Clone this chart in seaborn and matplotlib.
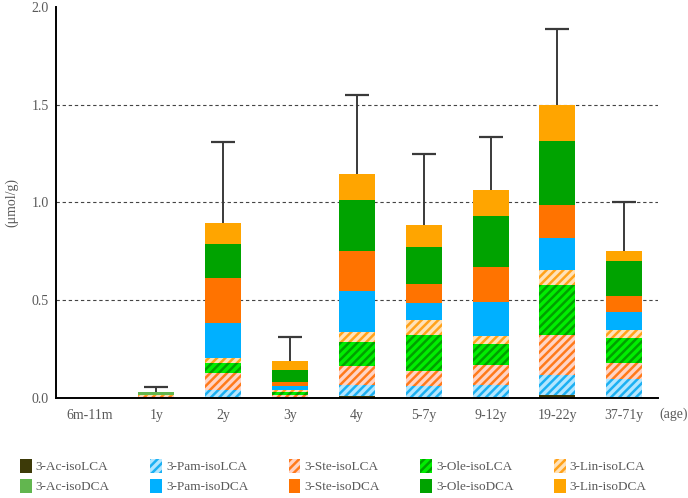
import numpy as np
import pandas as pd
import matplotlib
matplotlib.use('Agg')
import matplotlib.pyplot as plt
from matplotlib.patches import Patch
import seaborn as sns

# Age groups (x axis)
ages = ['6m-11m', '1y', '2y', '3y', '4y', '5-7y', '9-12y', '19-22y', '37-71y']

# Mean concentrations (umol/g), stacked bottom -> top
ac_lca = [0, 0.002, 0, 0, 0.009, 0, 0, 0.015, 0]
pam_lca = [0, 0, 0.039, 0.004, 0.056, 0.058, 0.062, 0.101, 0.094]
ste_lca = [0, 0.006, 0.089, 0.009, 0.097, 0.078, 0.106, 0.203, 0.085]
ole_lca = [0, 0, 0.051, 0.017, 0.123, 0.185, 0.108, 0.255, 0.128]
lin_lca = [0, 0.006, 0.024, 0.007, 0.053, 0.078, 0.041, 0.078, 0.038]
ac_dca = [0, 0.012, 0, 0, 0, 0, 0, 0, 0]
pam_dca = [0, 0, 0.179, 0.022, 0.207, 0.087, 0.174, 0.166, 0.092]
ste_dca = [0, 0, 0.230, 0.022, 0.205, 0.096, 0.179, 0.166, 0.085]
ole_dca = [0, 0, 0.174, 0.062, 0.260, 0.191, 0.258, 0.332, 0.178]
lin_dca = [0, 0, 0.107, 0.044, 0.135, 0.111, 0.137, 0.181, 0.050]

# SD of the total (upper error bar only)
total_sd = [np.nan, 0.029, 0.417, 0.123, 0.405, 0.365, 0.270, 0.388, 0.253]

# name, values, face colour, stripe colour (None = solid)
layers = [
    ('3-Ac-isoLCA', ac_lca, '#3d3a08', None),
    ('3-Pam-isoLCA', pam_lca, '#b3e6ff', '#1cb0f2'),
    ('3-Ste-isoLCA', ste_lca, '#ffd4c6', '#ff7a1c'),
    ('3-Ole-isoLCA', ole_lca, '#00ee00', '#00a000'),
    ('3-Lin-isoLCA', lin_lca, '#ffe2b8', '#ffa21a'),
    ('3-Ac-isoDCA', ac_dca, '#62b64f', None),
    ('3-Pam-isoDCA', pam_dca, '#00b0ff', None),
    ('3-Ste-isoDCA', ste_dca, '#ff7300', None),
    ('3-Ole-isoDCA', ole_dca, '#00a300', None),
    ('3-Lin-isoDCA', lin_dca, '#ffa500', None),
]

sns.set_style('white')
plt.rcParams['font.family'] = ['Liberation Serif', 'DejaVu Serif']
plt.rcParams['hatch.linewidth'] = 1.8

fig = plt.figure(figsize=(6.88, 4.98), dpi=100)
ax = fig.add_axes([0.0814, 0.2018, 0.8746, 0.7842])

cum = np.cumsum([np.array(v, dtype=float) for _, v, _, _ in layers], axis=0)

# draw cumulative heights from the top layer down so lower layers cover upper ones
for i in range(len(layers) - 1, -1, -1):
    name, vals, face, stripe = layers[i]
    df = pd.DataFrame({'age': ages, 'height': cum[i]})
    n_before = len(ax.patches)
    sns.barplot(data=df, x='age', y='height', order=ages, color=face,
                saturation=1, width=0.54, errorbar=None, ax=ax)
    for p in ax.patches[n_before:]:
        p.set_facecolor(face)
        p.set_linewidth(0)
        if stripe is not None:
            p.set_hatch('////')
            p.set_edgecolor(stripe)
        else:
            p.set_edgecolor(face)

totals = cum[-1]
x = np.arange(len(ages))
eb = ax.errorbar(x, totals, yerr=[np.zeros(len(ages)), total_sd], fmt='none',
                 ecolor='#3a3a3a', elinewidth=1.4, capsize=8.3, capthick=1.6, zorder=1)
# only the upper cap is drawn
eb[1][0].set_visible(False)

for yv in [0.5, 1.0, 1.5]:
    ax.axhline(yv, color='#444444', lw=0.8, ls=(0, (3, 2.5)), zorder=0)

ax.set_ylim(0, 2.0)
ax.set_xlim(-0.5, len(ages) - 0.5)
ax.set_yticks([0, 0.5, 1.0, 1.5, 2.0])
ax.set_yticklabels(['0.0', '0.5', '1.0', '1.5', '2.0'])
ax.tick_params(axis='both', length=0, labelsize=10, colors='#595959')
ax.tick_params(axis='x', pad=8)
ax.tick_params(axis='y', pad=5)
ax.set_xlabel('')
ax.set_ylabel('(μmol/g)', fontsize=10, color='#595959', labelpad=10)

for side in ['top', 'right']:
    ax.spines[side].set_visible(False)
for side in ['left', 'bottom']:
    ax.spines[side].set_color('black')
    ax.spines[side].set_linewidth(1.4)

fig.text(0.9785, 0.169, '(age)', fontsize=10, color='#595959', ha='center', va='center')

# legend: LCA row on top, DCA row underneath
handles = []
order = [0, 5, 1, 6, 2, 7, 3, 8, 4, 9]
for k in order:
    name, _, face, stripe = layers[k]
    if stripe is not None:
        h = Patch(facecolor=face, edgecolor=stripe, hatch='////', linewidth=0, label=name)
    else:
        h = Patch(facecolor=face, edgecolor=face, linewidth=0, label=name)
    handles.append(h)

fig.legend(handles=handles, ncol=5, loc='center left',
           bbox_to_anchor=(0.029, 0.0, 0.911, 0.088), mode='expand',
           frameon=False, fontsize=9.5, handlelength=0.9, handleheight=1.25,
           handletextpad=0.3, labelspacing=0.45, borderaxespad=0, borderpad=0,
           labelcolor='#595959')

fig.savefig('out.png', dpi=100)
